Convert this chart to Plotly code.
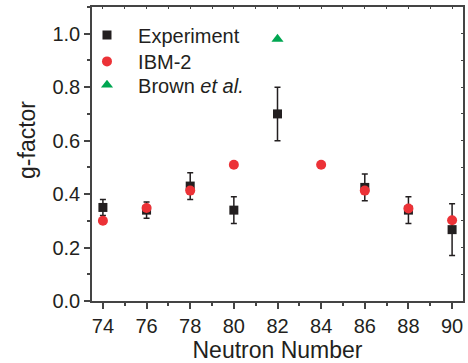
import plotly.graph_objects as go

# Data
exp_n = [74, 76, 78, 80, 82, 86, 88, 90]
exp_g = [0.35, 0.34, 0.43, 0.34, 0.70, 0.425, 0.34, 0.267]
exp_err = [0.03, 0.03, 0.05, 0.05, 0.10, 0.05, 0.05, 0.097]

ibm_n = [74, 76, 78, 80, 84, 86, 88, 90]
ibm_g = [0.30, 0.348, 0.413, 0.51, 0.51, 0.413, 0.346, 0.302]

brown_n = [82]
brown_g = [0.98]

x_ticks = [74, 76, 78, 80, 82, 84, 86, 88, 90]
y_ticks = [0.0, 0.2, 0.4, 0.6, 0.8, 1.0]

FONT = "Liberation Sans, Arial, Helvetica, sans-serif"
TXT = "#231f20"
AX = "#444444"
NB = "\u00a0\u00a0"

fig = go.Figure()
fig.add_trace(go.Scatter(
    x=exp_n, y=exp_g, mode="markers", name=NB + "Experiment", legend="legend",
    marker=dict(symbol="square", size=9, color="#231f20"),
    error_y=dict(type="data", array=exp_err, visible=True, color="#231f20",
                 thickness=1.5, width=3),
))
fig.add_trace(go.Scatter(
    x=ibm_n, y=ibm_g, mode="markers", name=NB + "IBM-2", legend="legend2",
    marker=dict(symbol="circle", size=10, color="#ec3237"),
))
fig.add_trace(go.Scatter(
    x=brown_n, y=brown_g, mode="markers", name=NB + "Brown <i>et al.</i>", legend="legend3",
    marker=dict(symbol="triangle-up", size=10.5, color="#00a651"),
))
# invisible trace to anchor mirror axes
fig.add_trace(go.Scatter(x=[80], y=[0.5], xaxis="x2", yaxis="y2",
                         mode="markers", marker=dict(opacity=0),
                         showlegend=False, hoverinfo="skip"))

def leg(y):
    return dict(x=-0.0135, y=y, xanchor="left", yanchor="middle",
                bgcolor="rgba(0,0,0,0)", borderwidth=0,
                font=dict(size=20, family=FONT, color=TXT), itemsizing="trace")

fig.update_layout(
    width=468, height=363,
    margin=dict(l=92, r=5, t=7, b=62, autoexpand=False),
    paper_bgcolor="white", plot_bgcolor="white",
    font=dict(family=FONT, color=TXT, size=20),
    showlegend=True,
    legend=leg(0.905),
    legend2=leg(0.815),
    legend3=leg(0.735),
    xaxis=dict(
        range=[73.5, 90.5], tickvals=x_ticks, ticktext=[str(v) for v in x_ticks],
        ticks="outside", ticklen=6, tickwidth=1.5, tickcolor=AX,
        showline=True, linewidth=1.5, linecolor=AX, showgrid=False, zeroline=False,
        minor=dict(ticks="outside", ticklen=3, tickwidth=1.5, tickcolor=AX, dtick=1, tick0=73),
        tickfont=dict(size=20, family=FONT, color=TXT), automargin=False,
        title=dict(text="Neutron Number", font=dict(size=23, family=FONT, color=TXT), standoff=8),
    ),
    yaxis=dict(
        range=[0, 1.1], tickvals=y_ticks, ticktext=["%.1f" % v for v in y_ticks],
        ticks="outside", ticklen=6, tickwidth=1.5, tickcolor=AX,
        showline=True, linewidth=1.5, linecolor=AX, showgrid=False, zeroline=False,
        minor=dict(ticks="outside", ticklen=3, tickwidth=1.5, tickcolor=AX, dtick=0.1, tick0=0),
        tickfont=dict(size=20, family=FONT, color=TXT), automargin=False,
    ),
    xaxis2=dict(overlaying="x", side="top", range=[73.5, 90.5], dtick=1, tick0=74,
                ticks="inside", ticklen=2, tickwidth=1, tickcolor=AX,
                showticklabels=False, showline=True, linewidth=1.5, linecolor=AX,
                showgrid=False, zeroline=False, anchor="y2", automargin=False),
    yaxis2=dict(overlaying="y", side="right", range=[0, 1.1], dtick=0.1, tick0=0,
                ticks="inside", ticklen=2, tickwidth=1, tickcolor=AX,
                showticklabels=False, showline=True, linewidth=1.5, linecolor=AX,
                showgrid=False, zeroline=False, anchor="x2", automargin=False),
    annotations=[dict(text="g-factor", xref="paper", yref="paper", x=-0.175, y=0.548,
                      xanchor="center", yanchor="middle", textangle=-90, showarrow=False,
                      font=dict(size=23, family=FONT, color=TXT))],
)

fig.write_html("out.html", config={"displayModeBar": False},
               post_script="document.body.style.margin='0';document.body.style.padding='0';")
